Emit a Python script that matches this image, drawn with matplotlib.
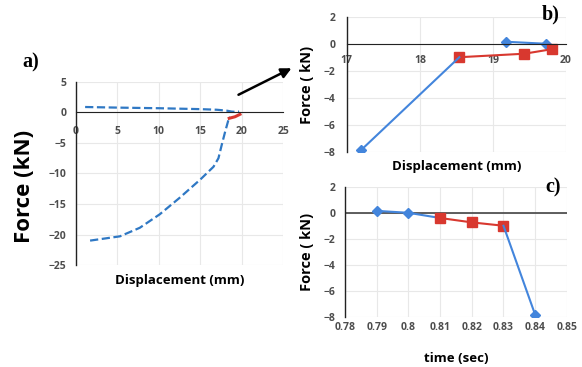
import matplotlib
matplotlib.use('Agg')
from matplotlib import pyplot as plt
from matplotlib.ticker import FuncFormatter

# panel a) full curve (dashed) and the red stretch
a_top_x = [1.1, 5, 10, 15, 17, 18.2, 18.8, 19.3, 19.7]
a_top_y = [0.9, 0.8, 0.7, 0.55, 0.45, 0.3, 0.15, 0.1, 0.15]
a_low_x = [1.7, 5.3, 7.7, 10.1, 12.5, 15.0, 16.6, 17.2, 17.6, 18.0, 18.4, 18.6]
a_low_y = [-21.0, -20.3, -18.9, -16.7, -14.0, -11.0, -8.9, -7.5, -5.3, -3.2, -1.25, -0.7]
a_red_x = [18.5, 19.2, 19.8]
a_red_y = [-0.95, -0.7, -0.3]

# force vs time
time = [0.79, 0.80, 0.81, 0.82, 0.83, 0.84]
force = [0.18, 0.03, -0.37, -0.71, -0.97, -7.85]
disp = [19.18, 19.73, 19.81, 19.43, 18.54, 17.2]

BLUE = '#4385dc'
DASH = '#2f78c4'
RED = '#d8382f'
TICK = '#4d4d4d'
GRID = '#e8e8e8'

plt.rcParams['font.family'] = ['Open Sans', 'DejaVu Sans']

fig = plt.figure(figsize=(5.82, 3.67), dpi=100)


def style(ax, xpad, ypad):
    for s in ('top', 'right'):
        ax.spines[s].set_visible(False)
    ax.spines['left'].set_color('#222222')
    ax.spines['left'].set_linewidth(1.0)
    ax.grid(True, color=GRID, lw=0.8)
    ax.set_axisbelow(True)
    ax.tick_params(length=0, labelsize=7.5, labelcolor=TICK)
    ax.tick_params(axis='x', pad=xpad)
    ax.tick_params(axis='y', pad=ypad)
    plt.setp(ax.get_xticklabels() + ax.get_yticklabels(), fontweight='bold')


# ---- a)
ax = fig.add_axes([0.1306, 0.2779, 0.3557, 0.4987])
ax.plot(a_top_x, a_top_y, ls='--', color=DASH, lw=1.6)
ax.plot(a_low_x, a_low_y, ls='--', color=DASH, lw=1.6)
ax.plot(a_red_x, a_red_y, color=RED, lw=2.2)
ax.set_xlim(0, 25)
ax.set_ylim(-25, 5)
ax.set_xticks([0, 5, 10, 15, 20, 25])
ax.set_yticks([5, 0, -5, -10, -15, -20, -25])
ax.spines['bottom'].set_position(('data', 0))
ax.spines['bottom'].set_color('#222222')
style(ax, 10, 7)
ax.set_ylabel('Force (kN)', fontsize=16, fontweight='bold')
ax.yaxis.set_label_coords(-0.2, 0.43)
ax.set_xlabel('Displacement (mm)', fontsize=9.5, fontweight='bold')
ax.xaxis.set_label_coords(0.5, -0.05)

# ---- b)
bx = fig.add_axes([0.596, 0.5866, 0.3765, 0.3663])
bx.plot(disp[:2], force[:2], color=BLUE, lw=1.5, marker='D', ms=5)
bx.plot(disp[2:5], force[2:5], color=RED, lw=1.5, marker='s', ms=6.5)
bx.plot(disp[4:], force[4:], color=BLUE, lw=1.5, marker='D', ms=5, markevery=[1])
bx.set_xlim(17, 20)
bx.set_ylim(-8, 2)
bx.set_xticks([17, 18, 19, 20])
bx.set_yticks([2, 0, -2, -4, -6, -8])
bx.spines['bottom'].set_position(('data', 0))
bx.spines['bottom'].set_color('#222222')
style(bx, 8, 8)
bx.set_ylabel('Force ( kN)', fontsize=10.5, fontweight='bold')
bx.yaxis.set_label_coords(-0.15, 0.5)
bx.set_xlabel('Displacement (mm)', fontsize=9.5, fontweight='bold')
bx.xaxis.set_label_coords(0.5, -0.06)

# ---- c)
cx = fig.add_axes([0.5928, 0.137, 0.3812, 0.3526])
cx.plot(time[:3], force[:3], color=BLUE, lw=1.5, marker='D', ms=5, markevery=[0, 1])
cx.plot(time[2:5], force[2:5], color=RED, lw=1.5, marker='s', ms=6.5)
cx.plot(time[4:], force[4:], color=BLUE, lw=1.5, marker='D', ms=5, markevery=[1])
cx.axhline(0, color='#444444', lw=1.2, zorder=1)
cx.set_xlim(0.78, 0.85)
cx.set_ylim(-8, 2)
cx.set_xticks([0.78, 0.79, 0.80, 0.81, 0.82, 0.83, 0.84, 0.85])
cx.xaxis.set_major_formatter(FuncFormatter(lambda v, p: '%g' % round(v, 2)))
cx.set_yticks([2, 0, -2, -4, -6, -8])
cx.spines['bottom'].set_visible(False)
style(cx, 4, 7)
cx.set_ylabel('Force ( kN)', fontsize=10.5, fontweight='bold')
cx.yaxis.set_label_coords(-0.14, 0.5)
cx.set_xlabel('time (sec)', fontsize=9.5, fontweight='bold')
cx.xaxis.set_label_coords(0.5, -0.27)

# panel letters and arrow
for txt, x, y in [('a)', 0.038, 0.83), ('b)', 0.93, 0.96), ('c)', 0.937, 0.49)]:
    fig.text(x, y, txt, fontsize=14.5, fontweight='bold', family='Liberation Serif', va='center')
fig.add_artist(matplotlib.patches.FancyArrowPatch(
    (236 / 582, 1 - 96 / 367), (294 / 582, 1 - 67 / 367), transform=fig.transFigure,
    arrowstyle='-|>,head_length=6,head_width=3', color='black', lw=1.8))

plt.savefig('out.png', dpi=100)
plt.close()
